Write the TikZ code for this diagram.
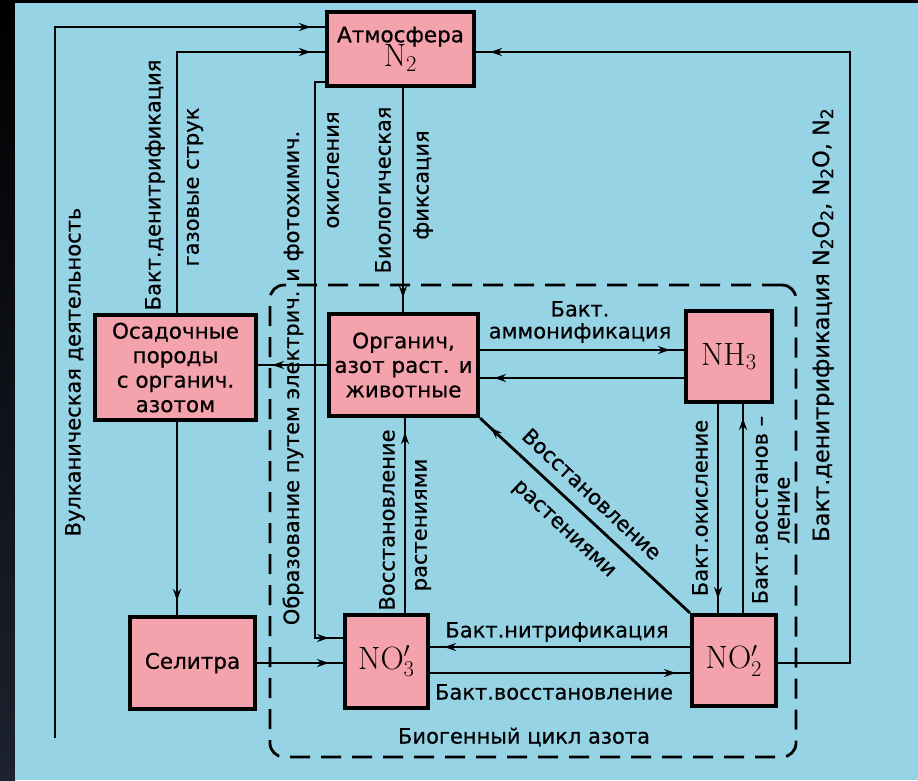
\documentclass[tikz,border=0pt]{standalone}
\usepackage{fontspec}
\newfontfamily\lab[FakeBold=0.6]{DejaVu Sans}
\usetikzlibrary{arrows.meta,decorations.markings}
\definecolor{bgblue}{RGB}{150,212,229}
\definecolor{boxpink}{RGB}{244,162,172}
\definecolor{darkstrip}{RGB}{28,34,46}
\newcommand{\chembig}[1]{\scalebox{1.5}{$\mathrm{#1}$}}
\newcommand{\lsub}[1]{\raisebox{-4pt}{\fontsize{17}{17}\selectfont #1}}
\begin{document}
\begin{tikzpicture}[x=1pt,y=-1pt,
  box/.style={draw=black,line width=4.2pt,fill=boxpink,inner sep=0pt,align=center,font=\lab\fontsize{21.5}{24.5}\selectfont},
  lbl/.style={inner sep=0pt,font=\lab\fontsize{21}{22}\selectfont},
  conn/.style={line width=2.8pt},
  arr/.style={conn,postaction={decorate},decoration={markings,mark=at position -14pt with {\arrow{Stealth[length=12pt,width=8pt]}}}},
  cyc/.style={draw=black,line width=2.8pt,dash pattern=on 20pt off 11pt,rounded corners=14pt,inner sep=0pt}
]
\useasboundingbox (0,0) rectangle (918,780);
\fill[black] (0,0) rectangle (918,780);
\shade[top color=black,bottom color=darkstrip] (0,0) rectangle (15,780);
\fill[bgblue] (15,3) rectangle (918,780);

% dashed frame of the biogenic cycle
\node[cyc,minimum width=526pt,minimum height=472pt] (bio) at (533,521) {};

% boxes
\node[box,minimum width=147pt,minimum height=74pt] (atm) at (400.5,49)
  {Атмосфера\\[-3pt]\chembig{N_2}};
\node[box,minimum width=161pt,minimum height=105pt] (osad) at (175.5,367.5)
  {Осадочные\\породы\\с органич.\\азотом};
\node[box,minimum width=149pt,minimum height=102pt] (org) at (403.5,365)
  {Органич,\\азот раст. и\\животные};
\node[box,minimum width=86pt,minimum height=91pt] (nh3) at (729,356.5) {\chembig{NH_3}};
\node[box,minimum width=125pt,minimum height=92pt] (sel) at (192.5,663) {Селитра};
\node[box,minimum width=83pt,minimum height=93pt] (no3) at (386.5,661.5) {\chembig{NO_3'}};
\node[box,minimum width=84pt,minimum height=91pt] (no2) at (734,660.5) {\chembig{NO_2'}};

% helper coordinates
\coordinate (v0) at (55,738);
\coordinate (v1) at (55,27);
\coordinate (d1) at (177,52);
\coordinate (e1) at (315,82);
\coordinate (e2) at (315,638);
\coordinate (bf) at (403,0);
\coordinate (bf2) at (405,0);
\coordinate (am) at (0,350);
\coordinate (amb) at (0,378);
\coordinate (ox) at (718,0);
\coordinate (rd) at (743,0);
\coordinate (nt) at (0,647);
\coordinate (rv) at (0,673);
\coordinate (r1) at (850,663);
\coordinate (r2) at (850,52);

% connectors
\draw[arr] (v0) -- (v1) -- (v1 -| atm.west);
\draw[arr] (osad.north -| d1) |- (d1 -| atm.west);
\draw[arr] (e1 -| atm.west) -- (e1) -- (e2) -- (e2 -| no3.west);
\draw[arr] (atm.south -| bf) -- (org.north -| bf);
\draw[arr] (org.west) -- (org.west -| osad.east);
\draw[arr] (org.east |- am) -- (nh3.west |- am);
\draw[arr] (nh3.west |- amb) -- (org.east |- amb);
\draw[arr] (no2.north west) -- (org.south east);
\draw[arr] (nh3.south -| ox) -- (no2.north -| ox);
\draw[arr] (no2.north -| rd) -- (nh3.south -| rd);
\draw[arr] (no2.west |- nt) -- (no3.east |- nt);
\draw[arr] (no3.east |- rv) -- (no2.west |- rv);
\draw[arr] (sel.east) -- (sel.east -| no3.west);
\draw[arr] (osad.south -| d1) -- (sel.north -| d1);
\draw[arr] (no3.north -| bf2) -- (org.south -| bf2);
\draw[arr] (no2.east |- r1) -- (r1) -- (r2) -- (r2 -| atm.east);

% labels
\node[lbl,rotate=90] (lvolc) at (75,372) {Вулканическая деятельность};
\node[lbl,rotate=90] (lden1) at (155,185) {Бакт.денитрификация};
\node[lbl,rotate=90] (lgas) at (195,187) {газовые струк};
\node[lbl,rotate=90] (lobr) at (293,378) {Образование путем электрич. и фотохимич.};
\node[lbl,rotate=90] (lok) at (333,170) {окисления};
\node[lbl,rotate=90] (lbio) at (383,190) {Биологическая};
\node[lbl,rotate=90] (lfix) at (423,185) {фиксация};
\node[lbl,align=center] (lamm) at (580,322) {Бакт.\\аммонификация};
\node[lbl,rotate=90] (lvos1) at (387,520) {Восстановление};
\node[lbl,rotate=90] (lrast1) at (423,525) {растениями};
\node[lbl,rotate=-43] (lvos2) at (592,494) {Восстановление};
\node[lbl,rotate=-43] (lrast2) at (563,530) {растениями};
\node[lbl,rotate=90] (lok2) at (700,508) {Бакт.окисление};
\node[lbl,rotate=90,align=center] (lvos3) at (771,510) {Бакт.восстанов –\\ление};
\node[lbl,rotate=90,font=\lab\fontsize{22.5}{24}\selectfont] (lden2) at (823,325)
  {Бакт.денитрификация N\lsub{2}O\lsub{2}, N\lsub{2}O, N\lsub{2}};
\node[lbl] (lnit) at (557,632) {Бакт.нитрификация};
\node[lbl] (lvos4) at (554,692) {Бакт.восстановление};
\node[lbl] (lbiog) at (524,737) {Биогенный цикл азота};
\end{tikzpicture}
\end{document}
